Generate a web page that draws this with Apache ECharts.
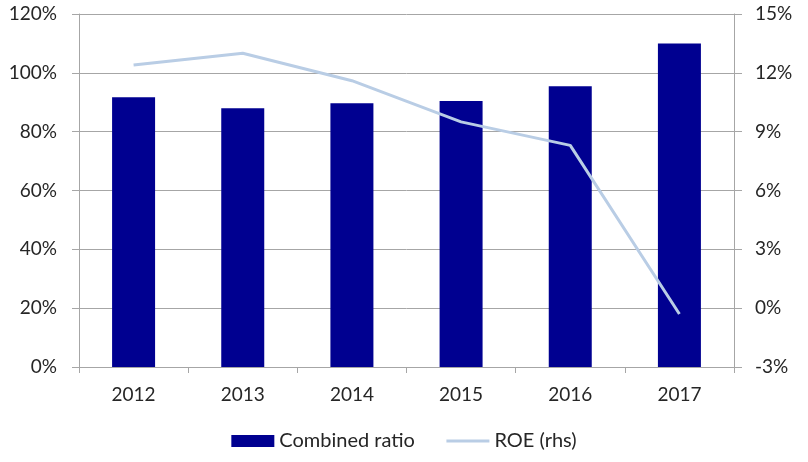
<!DOCTYPE html>
<html>
<head>
<meta charset="utf-8">
<script src="https://cdn.jsdelivr.net/npm/echarts@6/dist/echarts.min.js"></script>
<style>
  html, body { margin: 0; padding: 0; background: #fff; }
  #chart { width: 808px; height: 462px; }
</style>
</head>
<body>
<div id="chart"></div>
<script>
// Years on the category axis
const years = ['2012', '2013', '2014', '2015', '2016', '2017'];
// Combined ratio, % (left axis)
const combinedRatio = [91.7, 88.0, 89.7, 90.4, 95.4, 110.0];
// Return on equity, % (right axis)
const roe = [12.4, 13.0, 11.6, 9.5, 8.3, -0.3];

const font = 'Lato, "Open Sans", sans-serif';
const gridGray = '#a6a6a6';
const textColor = '#262626';
const roeColor = '#b9cde5';
const axisFontSize = 19;

const chart = echarts.init(document.getElementById('chart'));
chart.setOption({
  animation: false,
  textStyle: { fontFamily: font },
  grid: { left: 79, right: 74, top: 14, bottom: 95 },
  legend: {
    top: 426,
    left: 'center',
    itemWidth: 43,
    itemHeight: 12,
    itemGap: 30,
    textStyle: { fontFamily: font, fontSize: 20, color: textColor },
    data: [
      { name: 'Combined ratio', icon: 'rect' },
      { name: 'ROE (rhs)', itemStyle: { opacity: 0 }, lineStyle: { color: roeColor, width: 3 } }
    ]
  },
  xAxis: {
    type: 'category',
    data: years,
    boundaryGap: true,
    axisLine: { lineStyle: { color: gridGray, width: 1 } },
    axisTick: { show: true, alignWithLabel: false, length: 6, lineStyle: { color: gridGray } },
    axisLabel: { fontSize: axisFontSize, color: textColor, margin: 18, fontFamily: font }
  },
  yAxis: [
    {
      type: 'value',
      min: 0, max: 120, interval: 20,
      axisLine: { show: true, lineStyle: { color: gridGray } },
      axisTick: { show: true, length: 7, lineStyle: { color: gridGray } },
      splitLine: { show: true, lineStyle: { color: gridGray, width: 1 } },
      axisLabel: { fontSize: axisFontSize, color: textColor, margin: 22, fontFamily: font, formatter: v => v + '%' }
    },
    {
      type: 'value',
      min: -3, max: 15, interval: 3,
      position: 'right',
      axisLine: { show: true, lineStyle: { color: gridGray } },
      axisTick: { show: true, length: 8, lineStyle: { color: gridGray } },
      splitLine: { show: false },
      axisLabel: { fontSize: axisFontSize, color: textColor, margin: 21, fontFamily: font, formatter: v => v + '%' }
    }
  ],
  series: [
    {
      name: 'Combined ratio',
      type: 'bar',
      yAxisIndex: 0,
      data: combinedRatio,
      barWidth: 43,
      itemStyle: { color: '#000090' }
    },
    {
      name: 'ROE (rhs)',
      type: 'line',
      yAxisIndex: 1,
      data: roe,
      symbol: 'none',
      lineStyle: { color: roeColor, width: 3 },
      itemStyle: { color: roeColor }
    }
  ]
});
</script>
</body>
</html>
